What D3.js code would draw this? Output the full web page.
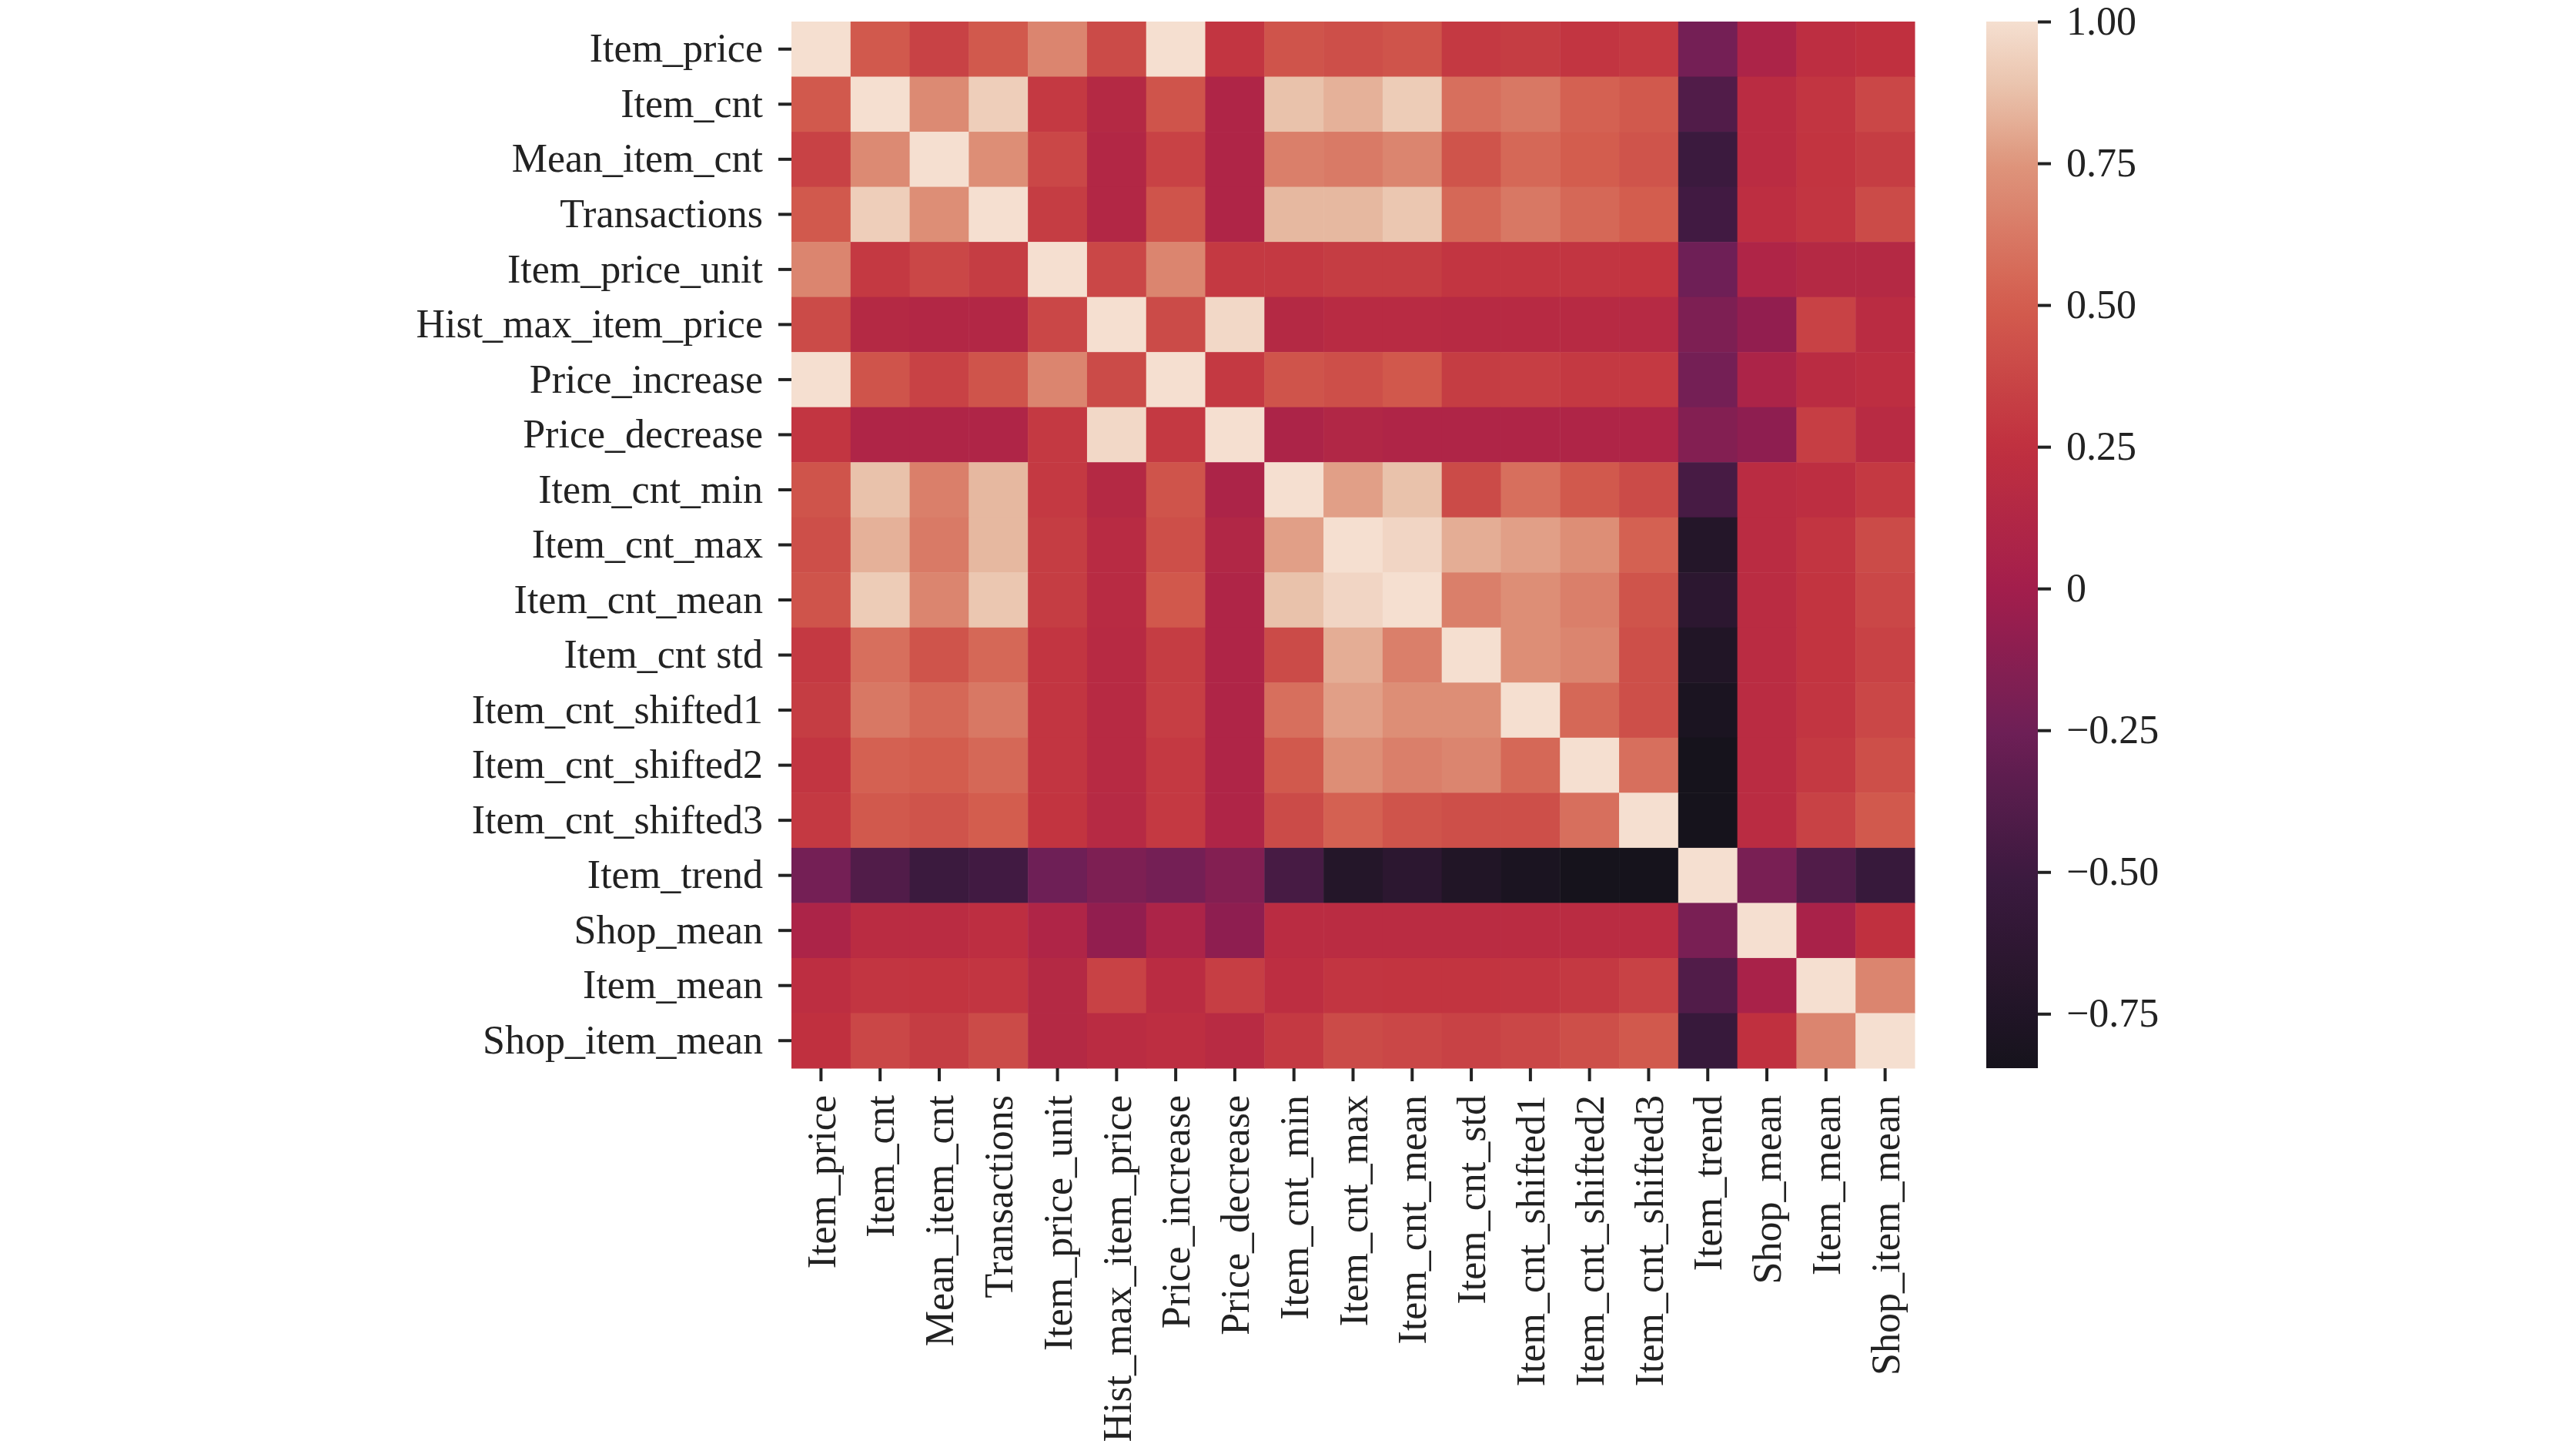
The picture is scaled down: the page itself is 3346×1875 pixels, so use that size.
<!DOCTYPE html>
<html>
<head>
<meta charset="utf-8">
<script src="https://cdn.jsdelivr.net/npm/d3@7"></script>
<style>
  body { margin: 0; background: #fff; }
  text { font-family: "Liberation Serif", serif; fill: #222; }
</style>
</head>
<body>
<div id="chart"></div>
<script>
'use strict';

const labels = ['Item_price', 'Item_cnt', 'Mean_item_cnt', 'Transactions', 'Item_price_unit',
    'Hist_max_item_price', 'Price_increase', 'Price_decrease', 'Item_cnt_min', 'Item_cnt_max',
    'Item_cnt_mean', 'Item_cnt std', 'Item_cnt_shifted1', 'Item_cnt_shifted2', 'Item_cnt_shifted3',
    'Item_trend', 'Shop_mean', 'Item_mean', 'Shop_item_mean'];
// x labels differ slightly from y labels in the reference
const xLabels = labels.map(function(l) { return l === 'Item_cnt std' ? 'Item_cnt_std' : l; });

const corr = [
    [1, .48, .35, .48, .68, .40, 1, .28, .45, .42, .45, .30, .32, .28, .30, -.22, .08, .22, .25],
    [.48, 1, .70, .93, .30, .15, .45, .10, .88, .83, .92, .58, .62, .52, .48, -.40, .20, .28, .38],
    [.35, .70, 1, .72, .38, .13, .35, .10, .65, .63, .68, .45, .55, .50, .45, -.52, .20, .27, .32],
    [.48, .93, .72, 1, .32, .13, .45, .10, .85, .85, .90, .55, .62, .55, .50, -.48, .22, .28, .40],
    [.68, .30, .38, .32, 1, .38, .68, .30, .30, .32, .32, .28, .28, .28, .27, -.25, .10, .15, .15],
    [.40, .15, .13, .13, .38, 1, .40, .97, .15, .18, .18, .17, .17, .17, .16, -.18, -.08, .35, .20],
    [1, .45, .35, .45, .68, .40, 1, .30, .45, .42, .47, .32, .33, .30, .30, -.22, .08, .20, .22],
    [.28, .10, .10, .10, .30, .97, .30, 1, .08, .12, .10, .10, .10, .10, .10, -.15, -.10, .33, .18],
    [.45, .88, .65, .85, .30, .15, .45, .08, 1, .78, .88, .40, .58, .48, .40, -.45, .20, .22, .30],
    [.42, .83, .63, .85, .32, .18, .42, .12, .78, 1, .96, .82, .78, .72, .52, -.72, .20, .28, .40],
    [.45, .92, .68, .90, .32, .18, .47, .10, .88, .96, 1, .65, .72, .65, .45, -.65, .20, .27, .38],
    [.30, .58, .45, .55, .28, .17, .32, .10, .40, .82, .65, 1, .72, .68, .42, -.75, .20, .27, .35],
    [.32, .62, .55, .62, .28, .17, .33, .10, .58, .78, .72, .72, 1, .55, .42, -.80, .20, .28, .38],
    [.28, .52, .50, .55, .28, .17, .30, .10, .48, .72, .65, .68, .55, 1, .58, -.85, .20, .30, .42],
    [.30, .48, .45, .50, .27, .16, .30, .10, .40, .52, .45, .42, .42, .58, 1, -.85, .20, .35, .48],
    [-.22, -.40, -.52, -.48, -.25, -.18, -.22, -.15, -.45, -.72, -.65, -.75, -.80, -.85, -.85, 1, -.20, -.40, -.55],
    [.08, .20, .20, .22, .10, -.08, .08, -.10, .20, .20, .20, .20, .20, .20, .20, -.20, 1, .05, .25],
    [.22, .28, .27, .28, .15, .35, .20, .33, .22, .28, .27, .27, .28, .30, .35, -.40, .05, 1, .68],
    [.25, .38, .32, .40, .15, .20, .22, .18, .30, .40, .38, .35, .38, .42, .48, -.55, .25, .68, 1]
];

const colorTicks = [1, 0.75, 0.5, 0.25, 0, -0.25, -0.5, -0.75];
const valueDomain = [-0.846, 1];
// muted "rocket"-like palette, as printed in the reference
const paletteValues = [-0.846, -0.5, -0.25, 0, 0.25, 0.5, 0.75, 0.88, 1];
const paletteColors = ['#16131c', '#3d1a40', '#6e1f56', '#a31e4c', '#c0303f', '#d35d4e',
    '#de957c', '#e9c2ab', '#f5dfd0'];

const W = 3346, H = 1875;
const box = {left: 1028, top: 28, right: 2487, bottom: 1387};
const cbar = {left: 2580, right: 2647};

const color = d3.scaleLinear().domain(paletteValues).range(paletteColors)
    .interpolate(d3.interpolateRgb).clamp(true);

const svg = d3.select('#chart').append('svg').attr('width', W).attr('height', H);

const x = d3.scaleBand().domain(d3.range(labels.length)).range([box.left, box.right]);
const y = d3.scaleBand().domain(d3.range(labels.length)).range([box.top, box.bottom]);

const cells = [];
corr.forEach(function(row, i) {
    row.forEach(function(v, j) { cells.push({i: i, j: j, v: v}); });
});

svg.append('g').selectAll('rect').data(cells).join('rect')
    .attr('x', function(d) { return x(d.j); })
    .attr('y', function(d) { return y(d.i); })
    .attr('width', x.bandwidth() + 0.5)
    .attr('height', y.bandwidth() + 0.5)
    .attr('fill', function(d) { return color(d.v); });

const fontSize = 52;

const yAxis = svg.append('g')
    .attr('transform', 'translate(' + box.left + ',0)')
    .call(d3.axisLeft(y).tickSize(17).tickPadding(20).tickFormat(function(i) { return labels[i]; }));
yAxis.select('.domain').remove();

const xAxis = svg.append('g')
    .attr('transform', 'translate(0,' + box.bottom + ')')
    .call(d3.axisBottom(x).tickSize(17).tickPadding(20).tickFormat(function(i) { return xLabels[i]; }));
xAxis.select('.domain').remove();
xAxis.selectAll('text')
    .attr('transform', 'rotate(-90)')
    .attr('text-anchor', 'end')
    .attr('dy', '0.35em')
    .attr('x', -35)
    .attr('y', 0);

[xAxis, yAxis].forEach(function(a) {
    a.selectAll('text').style('font-size', fontSize + 'px').style('font-family', '"Liberation Serif", serif').attr('fill', '#222');
    a.selectAll('line').attr('stroke', '#222').attr('stroke-width', 4);
});

// colorbar
const cScale = d3.scaleLinear().domain(valueDomain).range([box.bottom, box.top]);
const defs = svg.append('defs');
const grad = defs.append('linearGradient').attr('id', 'cbgrad')
    .attr('x1', 0).attr('y1', 1).attr('x2', 0).attr('y2', 0);
d3.range(0, 1.0001, 0.02).forEach(function(t) {
    grad.append('stop').attr('offset', t)
        .attr('stop-color', color(valueDomain[0] + t * (valueDomain[1] - valueDomain[0])));
});
svg.append('rect')
    .attr('x', cbar.left).attr('y', box.top)
    .attr('width', cbar.right - cbar.left).attr('height', box.bottom - box.top)
    .attr('fill', 'url(#cbgrad)');

const cAxis = svg.append('g')
    .attr('transform', 'translate(' + cbar.right + ',0)')
    .call(d3.axisRight(cScale).tickValues(colorTicks).tickSize(17).tickPadding(20)
        .tickFormat(function(v) { return v === 0 ? '0' : d3.format('.2f')(v).replace('-', '\u2212'); }));
cAxis.select('.domain').remove();
cAxis.selectAll('text').style('font-size', fontSize + 'px').style('font-family', '"Liberation Serif", serif').attr('fill', '#222');
cAxis.selectAll('line').attr('stroke', '#222').attr('stroke-width', 4);
</script>
</body>
</html>
